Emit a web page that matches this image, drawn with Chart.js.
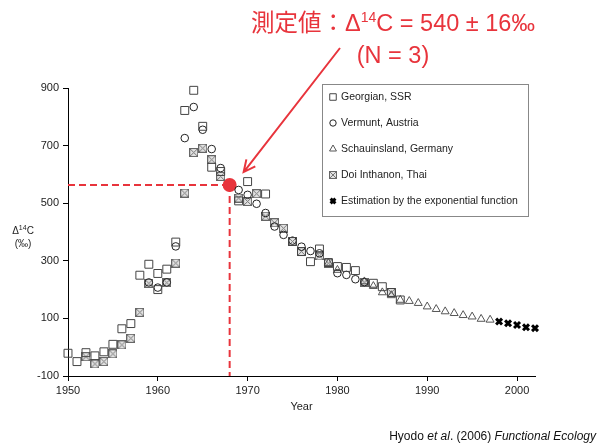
<!DOCTYPE html>
<html>
<head>
<meta charset="utf-8">
<script src="https://cdn.jsdelivr.net/npm/chart.js@4.4.0/dist/chart.umd.min.js"></script>
<style>
  html, body { margin: 0; padding: 0; background: #fff; }
  #wrap { position: relative; width: 604px; height: 446px; overflow: hidden; font-family: "Liberation Sans", Arial, sans-serif; }
  #chart { position: absolute; left: 0; top: 0; }
  .note { position: absolute; color: #e8343c; font-size: 23.5px; text-align: center; left: 193px; width: 400px; line-height: 32px; top: 7px;
          font-family: "Liberation Sans", "Noto Sans CJK JP", sans-serif; }
  .note sup { font-size: 14px; vertical-align: 9px; line-height: 0; }
  .ytitle { position: absolute; left: 2px; width: 42px; top: 224px; font-size: 10px; line-height: 13px; text-align: center; color: #222; }
  .ytitle sup { font-size: 7px; vertical-align: 4px; line-height: 0; }
  .cite { position: absolute; right: 8px; top: 429px; font-size: 12px; color: #111; }
</style>
</head>
<body>
<div id="wrap">
  <canvas id="chart" width="604" height="446"></canvas>
  <div class="note">測定値：Δ<sup>14</sup>C = 540 ± 16‰<br>(N = 3)</div>
  <div class="ytitle">Δ<sup>14</sup>C<br>(‰)</div>
  <div class="cite">Hyodo <i>et al</i>. (2006) <i>Functional Ecology</i></div>
</div>
<script>
// axis ticks
const xTicks = [1950, 1960, 1970, 1980, 1990, 2000];
const yTicks = [-100, 100, 300, 500, 700, 900];

// Georgian, SSR (squares)
const georgianYears = [1950, 1951, 1952, 1953, 1954, 1955, 1956, 1957, 1958, 1959, 1960, 1960, 1961, 1962, 1963, 1964, 1965, 1966, 1967, 1969, 1970, 1972, 1975, 1976, 1977, 1978, 1979, 1980, 1981, 1982, 1984, 1985, 1986, 1987];
const georgianVals  = [-21, -50, -19, -30, -16, 10, 64, 82, 250, 288, 256, 200, 271, 365, 822, 892, 767, 625, 610, 508, 575, 532, 367, 332, 297, 341, 294, 280, 277, 266, 222, 210, 190, 164];

// Vermunt, Austria (circles)
const vermuntYears = [1959, 1960, 1961, 1962, 1963, 1964, 1965, 1966, 1967, 1969, 1970, 1971, 1972, 1973, 1974, 1975, 1976, 1977, 1978, 1980, 1981, 1982, 1983];
const vermuntVals  = [225, 207, 225, 350, 726, 834, 755, 688, 622, 546, 529, 498, 466, 419, 390, 370, 349, 334, 326, 257, 251, 236, 226];

// Schauinsland, Germany (triangles)
const schauYears = [1979, 1980, 1983, 1984, 1985, 1986, 1987, 1988, 1989, 1990, 1991, 1992, 1993, 1994, 1995, 1996, 1997];
const schauVals  = [292, 268, 228, 212, 190, 180, 164, 160, 153, 141, 132, 124, 118, 111, 106, 98, 95];

// Doi Inthanon, Thai (crossed squares)
const doiYears = [1952, 1953, 1954, 1955, 1956, 1957, 1958, 1959, 1961, 1962, 1963, 1964, 1965, 1966, 1967, 1969, 1970, 1971, 1972, 1973, 1974, 1975, 1976, 1978, 1979, 1983, 1986];
const doiVals  = [-33, -58, -50, -23, 8, 31, 121, 222, 224, 292, 535, 676, 691, 651, 593, 518, 506, 533, 455, 432, 413, 367, 332, 317, 292, 226, 190];

// Estimation by the exponential function
const estYears = [1998, 1999, 2000, 2001, 2002];
const estVals  = [89, 83, 77, 69, 66];

// measured sample
const measuredYear = [1968];
const measuredVal  = [563];

const RED = '#e8343c';

function pts(xs, ys) {
    return xs.map((x, i) => ({ x: x, y: ys[i] }));
}

// little grey box with an X, like the Thai marker
function boxX(size) {
    const c = document.createElement('canvas');
    c.width = size; c.height = size;
    const g = c.getContext('2d');
    g.fillStyle = '#e2e2e2';
    g.fillRect(0, 0, size, size);
    g.strokeStyle = '#666';
    g.lineWidth = 1;
    g.strokeRect(0.5, 0.5, size - 1, size - 1);
    g.strokeStyle = '#777';
    g.beginPath();
    g.moveTo(1, 1); g.lineTo(size - 1, size - 1);
    g.moveTo(size - 1, 1); g.lineTo(1, size - 1);
    g.stroke();
    return c;
}

const doiMarker = boxX(9);
const doiLegend = boxX(8);

// legend box inside the plot (top right)
const boxLegend = {
    id: 'boxLegend',
    afterDraw(chart) {
        const ctx = chart.ctx;
        ctx.save();
        ctx.strokeStyle = '#888';
        ctx.lineWidth = 1;
        ctx.strokeRect(322.5, 84.5, 206, 132);
        ctx.font = '10.5px "Liberation Sans", Arial, sans-serif';
        ctx.fillStyle = '#222';
        ctx.textBaseline = 'middle';
        let y = 97;
        chart.data.datasets.forEach(ds => {
            if (ds.hideInLegend) return;
            ctx.strokeStyle = ds.borderColor;
            ctx.fillStyle = ds.legendFill || 'rgba(0,0,0,0)';
            ctx.lineWidth = ds.borderWidth;
            Chart.helpers.drawPoint(ctx, {
                pointStyle: ds.legendStyle || ds.pointStyle,
                radius: ds.legendRadius,
                rotation: 0,
                borderWidth: ds.borderWidth
            }, 333, y);
            ctx.fillStyle = '#222';
            ctx.fillText(ds.label, 341, y + 0.5);
            y += 26;
        });
        ctx.restore();
    }
};

// red dashed guide lines and arrow to the measured point
const measureMarks = {
    id: 'measureMarks',
    beforeDatasetsDraw(chart) {
        const { ctx, scales: { x, y }, chartArea } = chart;
        const px = x.getPixelForValue(measuredYear[0]);
        const py = y.getPixelForValue(measuredVal[0]);
        ctx.save();
        ctx.strokeStyle = RED;
        ctx.lineWidth = 2;
        ctx.setLineDash([7, 4]);
        ctx.beginPath();
        ctx.moveTo(chartArea.left, py);
        ctx.lineTo(px, py);
        ctx.moveTo(px, py);
        ctx.lineTo(px, chartArea.bottom);
        ctx.stroke();
        ctx.restore();
    },
    afterDraw(chart) {
        const { ctx, scales: { x, y } } = chart;
        const px = x.getPixelForValue(measuredYear[0]);
        const py = y.getPixelForValue(measuredVal[0]);
        const sx = 340, sy = 48;
        const tx = px + 14, ty = py - 13;
        const a = Math.atan2(ty - sy, tx - sx);
        ctx.save();
        ctx.strokeStyle = RED;
        ctx.lineWidth = 2;
        ctx.beginPath();
        ctx.moveTo(sx, sy);
        ctx.lineTo(tx, ty);
        ctx.moveTo(tx - 13 * Math.cos(a - 0.45), ty - 13 * Math.sin(a - 0.45));
        ctx.lineTo(tx, ty);
        ctx.lineTo(tx - 13 * Math.cos(a + 0.45), ty - 13 * Math.sin(a + 0.45));
        ctx.stroke();
        ctx.restore();
    }
};

const FONT = { family: '"Liberation Sans", Arial, sans-serif', size: 11 };

new Chart(document.getElementById('chart'), {
    type: 'scatter',
    data: {
        datasets: [
            {
                label: 'Georgian, SSR',
                data: pts(georgianYears, georgianVals),
                pointStyle: 'rect', pointRadius: 5.6, legendRadius: 4.6,
                borderColor: '#444', backgroundColor: 'rgba(0,0,0,0)', borderWidth: 1
            },
            {
                label: 'Vermunt, Austria',
                data: pts(vermuntYears, vermuntVals),
                pointStyle: 'circle', pointRadius: 3.8, legendRadius: 3.2,
                borderColor: '#222', backgroundColor: 'rgba(0,0,0,0)', borderWidth: 1
            },
            {
                label: 'Schauinsland, Germany',
                data: pts(schauYears, schauVals),
                pointStyle: 'triangle', pointRadius: 4.6, legendRadius: 4,
                borderColor: '#555', backgroundColor: 'rgba(0,0,0,0)', borderWidth: 1
            },
            {
                label: 'Doi Inthanon, Thai',
                data: pts(doiYears, doiVals),
                pointStyle: doiMarker, legendStyle: doiLegend, pointRadius: 5, legendRadius: 4,
                borderColor: '#555', backgroundColor: '#e2e2e2', borderWidth: 1
            },
            {
                label: 'Estimation by the exponential function',
                data: pts(estYears, estVals),
                pointStyle: 'crossRot', pointRadius: 4.2, legendRadius: 3.4,
                borderColor: '#000', backgroundColor: '#000', borderWidth: 3
            },
            {
                label: 'measured',
                hideInLegend: true,
                data: pts(measuredYear, measuredVal),
                pointStyle: 'circle', pointRadius: 7,
                borderColor: RED, backgroundColor: RED, borderWidth: 0
            }
        ]
    },
    options: {
        responsive: false,
        animation: false,
        devicePixelRatio: 1,
        clip: false,
        layout: { padding: { top: 88, right: 69, left: 0, bottom: 32 } },
        plugins: {
            legend: { display: false },
            tooltip: { enabled: false }
        },
        scales: {
            x: {
                type: 'linear',
                min: 1950,
                max: 2002,
                afterBuildTicks: s => { s.ticks = xTicks.map(v => ({ value: v })); },
                afterFit: s => { s.height = 38; },
                grid: { drawOnChartArea: false, drawTicks: true, tickLength: 5, color: '#000' },
                border: { display: true, color: '#000', width: 1 },
                ticks: { color: '#222', font: FONT, padding: 3, maxRotation: 0, callback: v => String(v) },
                title: { display: true, text: 'Year', color: '#222', font: FONT, padding: { top: 2, bottom: 0 } }
            },
            y: {
                type: 'linear',
                min: -100,
                max: 900,
                afterBuildTicks: s => { s.ticks = yTicks.map(v => ({ value: v })); },
                afterFit: s => { s.width = 68; },
                grid: { drawOnChartArea: false, drawTicks: true, tickLength: 5, color: '#000' },
                border: { display: true, color: '#000', width: 1 },
                ticks: { color: '#222', font: FONT, padding: 4, callback: v => String(v) }
            }
        }
    },
    plugins: [measureMarks, boxLegend]
});
</script>
</body>
</html>
